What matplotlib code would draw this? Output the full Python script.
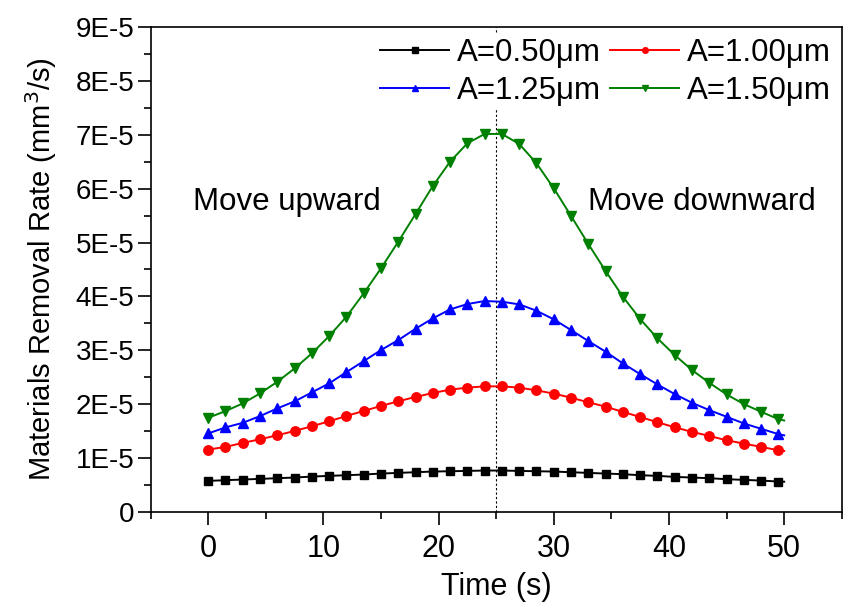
import numpy as np
import matplotlib
matplotlib.use("Agg")
import matplotlib.pyplot as plt
from matplotlib.ticker import MultipleLocator, FuncFormatter

plt.rcParams['font.family'] = ['Liberation Sans', 'DejaVu Sans']

# time (s): markers every 1.5 s, curve ends at 50 s
time = [0, 1.5, 3, 4.5, 6, 7.5, 9, 10.5, 12, 13.5, 15, 16.5, 18, 19.5, 21, 22.5, 24,
        25.5, 27, 28.5, 30, 31.5, 33, 34.5, 36, 37.5, 39, 40.5, 42, 43.5, 45, 46.5,
        48, 49.5, 50]

# removal rate in units of 1E-5 mm^3/s
a050 = [0.580, 0.593, 0.605, 0.617, 0.630, 0.642, 0.660, 0.673, 0.685, 0.698, 0.716,
        0.728, 0.741, 0.753, 0.759, 0.765, 0.772,
        0.772, 0.765, 0.759, 0.753, 0.741, 0.728, 0.716, 0.704, 0.685, 0.673, 0.654,
        0.642, 0.630, 0.611, 0.599, 0.586, 0.568, 0.565]
a100 = [1.161, 1.210, 1.284, 1.352, 1.426, 1.506, 1.593, 1.685, 1.784, 1.877, 1.969,
        2.056, 2.136, 2.210, 2.272, 2.309, 2.333,
        2.333, 2.309, 2.259, 2.198, 2.123, 2.037, 1.957, 1.858, 1.765, 1.667, 1.574,
        1.488, 1.414, 1.333, 1.272, 1.210, 1.148, 1.135]
a125 = [1.460, 1.571, 1.657, 1.781, 1.924, 2.054, 2.221, 2.388, 2.597, 2.801, 3.006,
        3.191, 3.401, 3.593, 3.760, 3.859, 3.915,
        3.902, 3.853, 3.735, 3.575, 3.377, 3.173, 2.975, 2.758, 2.560, 2.368, 2.189,
        2.028, 1.892, 1.769, 1.645, 1.546, 1.447, 1.425]
a150 = [1.750, 1.874, 2.016, 2.202, 2.418, 2.665, 2.944, 3.265, 3.624, 4.057, 4.521,
        5.015, 5.529, 6.048, 6.500, 6.840, 7.013,
        7.013, 6.827, 6.469, 6.005, 5.492, 4.972, 4.471, 3.995, 3.581, 3.222, 2.913,
        2.635, 2.399, 2.183, 2.004, 1.861, 1.725, 1.700]

series = [
    ("A=0.50\u03bcm", a050, "black", "s", 6.3),
    ("A=1.00\u03bcm", a100, "red", "o", 6.8),
    ("A=1.25\u03bcm", a125, "blue", "^", 7.8),
    ("A=1.50\u03bcm", a150, "green", "v", 7.8),
]

fig = plt.figure(figsize=(8.46, 6.09), dpi=100)
ax = fig.add_axes([0.178, 0.159, 0.817, 0.797])

ax.axvline(25, color="black", ls=(0, (2, 2)), lw=0.8, zorder=1)

handles = {}
n_mark = len(time) - 1
for label, vals, col, mk, ms in series:
    y = np.array(vals) * 1e-5
    h, = ax.plot(time, y, color=col, lw=1.4, marker=mk, markersize=ms,
                 markevery=list(range(n_mark)), label=label, zorder=3)
    handles[label] = h

ax.set_xlim(-5, 55)
ax.set_ylim(0, 9e-5)
ax.xaxis.set_major_locator(MultipleLocator(10))
ax.xaxis.set_minor_locator(MultipleLocator(5))
ax.yaxis.set_major_locator(MultipleLocator(1e-5))
ax.yaxis.set_minor_locator(MultipleLocator(0.5e-5))


def fmt(v, pos):
    n = int(round(v * 1e5))
    return "0" if n == 0 else "%dE-5" % n


ax.yaxis.set_major_formatter(FuncFormatter(fmt))
ax.tick_params(which="major", direction="out", length=9.5, width=1.2)
ax.tick_params(which="minor", direction="out", length=5, width=1.2)
ax.tick_params(axis="x", labelsize=22, pad=6)
ax.tick_params(axis="y", labelsize=20, pad=2)
for s in ax.spines.values():
    s.set_linewidth(1.2)

ax.set_xlabel("Time (s)", fontsize=22, labelpad=6)
ax.set_ylabel("Materials Removal Rate (mm$^3$/s)", fontsize=21, labelpad=12)

ax.text(-1.3, 5.75e-5, "Move upward", fontsize=22.5, va="center", ha="left")
ax.text(33.0, 5.75e-5, "Move downward", fontsize=22.5, va="center", ha="left")

order = ["A=0.50\u03bcm", "A=1.25\u03bcm", "A=1.00\u03bcm", "A=1.50\u03bcm"]
leg = ax.legend([handles[k] for k in order], order, ncol=2, loc="upper right",
                fontsize=22.5, frameon=True, fancybox=False, edgecolor="none",
                facecolor="white", framealpha=1, markerscale=0.6,
                handlelength=2.2, handletextpad=0.25, columnspacing=0.3,
                labelspacing=0.25, borderpad=0.15, borderaxespad=0.2)

fig.savefig("out.png", dpi=100)
